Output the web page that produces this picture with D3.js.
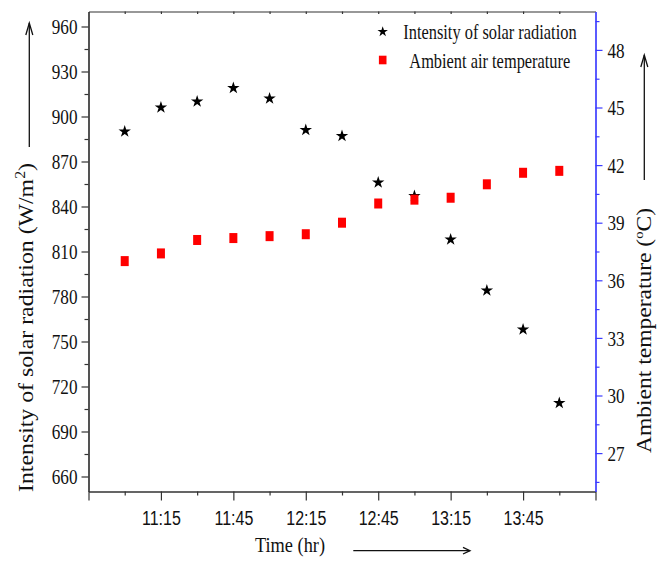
<!DOCTYPE html>
<html>
<head>
<meta charset="utf-8">
<script src="https://cdn.jsdelivr.net/npm/d3@7"></script>
<style>
  html, body { margin: 0; padding: 0; background: #fff; }
  svg { display: block; }
</style>
</head>
<body>
<svg id="chart" width="668" height="561"></svg>
<script>
// ---- data ----
const times = ["11:00","11:15","11:30","11:45","12:00","12:15","12:30","12:45","13:00","13:15","13:30","13:45","14:00"];
const solarRadiation = [890, 906, 910, 919, 912, 891, 887, 856, 847, 818, 784, 758, 709];
const airTemperature = [37.0, 37.4, 38.1, 38.2, 38.3, 38.4, 39.0, 40.0, 40.2, 40.3, 41.0, 41.6, 41.7];
const xTickLabels = ["11:15","11:45","12:15","12:45","13:15","13:45"];
const leftTicks = [660, 690, 720, 750, 780, 810, 840, 870, 900, 930, 960];
const rightTicks = [27, 30, 33, 36, 39, 42, 45, 48];
const seriesNames = ["Intensity of solar radiation", "Ambient air temperature"];

// ---- helpers ----
const toMin = s => { const [h, m] = s.split(":").map(Number); return h * 60 + m; };
const fmt = m => Math.floor(m / 60) + ":" + String(m % 60).padStart(2, "0");

const serif = "'Liberation Serif', 'Times New Roman', serif";
const sans = "'Liberation Sans', Arial, sans-serif";

const svg = d3.select("#chart");
const L = 88.5, R = 595.5, T = 11.5, B = 491.5;

const x = d3.scaleLinear().domain([toMin("10:45"), toMin("14:15")]).range([L, R]);
const yL = d3.scaleLinear().domain([650, 970]).range([B, T]);
const yR = d3.scaleLinear().domain([25, 50]).range([B, T]);

const axisColor = "#333";
const blue = "#3c3cff";

// top border with tiny inward ticks
const topAx = svg.append("g").attr("transform", `translate(0,${T})`)
  .call(d3.axisTop(x).tickValues(d3.range(toMin("11:00"), toMin("14:15"), 15)).tickSize(-2.5).tickSizeOuter(0).tickFormat(""));
topAx.selectAll("path,line").attr("stroke", axisColor).attr("stroke-width", 1.2);
topAx.selectAll("text").remove();

// bottom axis (minor)
const bMin = svg.append("g").attr("transform", `translate(0,${B})`)
  .call(d3.axisBottom(x).tickValues(d3.range(toMin("11:00"), toMin("14:15"), 30)).tickSize(4).tickSizeOuter(0).tickFormat(""));
bMin.selectAll("path,line").attr("stroke", axisColor).attr("stroke-width", 1.2);
bMin.selectAll("text").remove();

// bottom axis (major)
const bMaj = svg.append("g").attr("transform", `translate(0,${B})`)
  .call(d3.axisBottom(x).tickValues(d3.range(toMin("10:45"), toMin("14:15") + 1, 30)).tickSize(9).tickSizeOuter(0)
    .tickFormat(d => xTickLabels.includes(fmt(d)) ? fmt(d) : ""));
bMaj.selectAll("path,line").attr("stroke", axisColor).attr("stroke-width", 1.2);
bMaj.attr("font-family", sans).attr("font-size", 20);
bMaj.selectAll("text").filter(function () { return this.textContent === ""; }).remove();
bMaj.selectAll("text").attr("y", 0).attr("dy", 0).attr("fill", "#111")
  .attr("transform", "translate(0,33) scale(0.8,1)");

// left axis (minor + major)
const lMin = svg.append("g").attr("transform", `translate(${L},0)`)
  .call(d3.axisLeft(yL).tickValues(d3.range(675, 961, 30)).tickSize(4).tickSizeOuter(0).tickFormat(""));
lMin.selectAll("path,line").attr("stroke", axisColor).attr("stroke-width", 1.2);
lMin.selectAll("text").remove();
const lMaj = svg.append("g").attr("transform", `translate(${L},0)`)
  .call(d3.axisLeft(yL).tickValues(leftTicks).tickSize(7).tickSizeOuter(0));
lMaj.selectAll("path,line").attr("stroke", axisColor).attr("stroke-width", 1.2);
lMaj.attr("font-family", serif).attr("font-size", 22);
lMaj.selectAll("text").attr("x", 0).attr("dy", "0.33em").attr("fill", "#111")
  .attr("transform", "translate(-11,0) scale(0.78,1)");

// right axis (minor + major), blue
const rMin = svg.append("g").attr("transform", `translate(${R},0)`)
  .call(d3.axisRight(yR).tickValues(d3.range(25.5, 50, 3)).tickSize(4).tickSizeOuter(0).tickFormat(""));
rMin.selectAll("path,line").attr("stroke", blue).attr("stroke-width", 1.2);
rMin.selectAll("text").remove();
const rMaj = svg.append("g").attr("transform", `translate(${R},0)`)
  .call(d3.axisRight(yR).tickValues(rightTicks).tickSize(7).tickSizeOuter(0));
rMaj.selectAll("path,line").attr("stroke", blue).attr("stroke-width", 1.2);
rMaj.attr("font-family", serif).attr("font-size", 22);
rMaj.selectAll("text").attr("x", 0).attr("dy", "0.33em").attr("fill", "#111")
  .attr("text-anchor", "start")
  .attr("transform", "translate(12,0) scale(0.78,1)");

// ---- data marks ----
const star = d3.symbol().type(d3.symbolStar).size(48);
svg.append("g").selectAll("path").data(times.map((t, i) => ({ t, v: solarRadiation[i] })))
  .join("path")
  .attr("d", star)
  .attr("transform", d => `translate(${x(toMin(d.t))},${yL(d.v)})`)
  .attr("fill", "#000");

const sqW = 8, sqH = 10;
svg.append("g").selectAll("rect").data(times.map((t, i) => ({ t, v: airTemperature[i] })))
  .join("rect")
  .attr("x", d => x(toMin(d.t)) - sqW / 2)
  .attr("y", d => yR(d.v) - sqH / 2)
  .attr("width", sqW).attr("height", sqH)
  .attr("fill", "#ff0000");

// ---- legend ----
const lg = svg.append("g");
lg.append("path").attr("d", d3.symbol().type(d3.symbolStar).size(34)).attr("transform", "translate(382.7,31.7)").attr("fill", "#000");
lg.append("rect").attr("x", 382.7 - 3.8).attr("y", 60 - 4.3).attr("width", 7.6).attr("height", 8.6).attr("fill", "#ff0000");
lg.append("text").attr("transform", "translate(403.3,39) scale(0.78,1)").attr("font-family", serif).attr("font-size", 21)
  .attr("fill", "#111").text(seriesNames[0]);
lg.append("text").attr("transform", "translate(409.3,67.5) scale(0.78,1)").attr("font-family", serif).attr("font-size", 21)
  .attr("fill", "#111").text(seriesNames[1]);

// ---- axis titles ----
const lt = svg.append("text").attr("transform", "translate(33,327.5) rotate(-90)")
  .attr("text-anchor", "middle").attr("font-family", serif).attr("font-size", 21).attr("fill", "#111")
  .attr("textLength", 329).attr("lengthAdjust", "spacingAndGlyphs");
lt.append("tspan").text("Intensity of solar radiation (W/m");
lt.append("tspan").attr("dy", -8).attr("font-size", 14).text("2");
lt.append("tspan").attr("dy", 8).text(")");

const rt = svg.append("text").attr("transform", "translate(651,330.5) rotate(-90)")
  .attr("text-anchor", "middle").attr("font-family", serif).attr("font-size", 21).attr("fill", "#111")
  .attr("textLength", 245).attr("lengthAdjust", "spacingAndGlyphs");
rt.append("tspan").text("Ambient temperature (");
rt.append("tspan").attr("dy", -8).attr("font-size", 13).text("o");
rt.append("tspan").attr("dy", 8).text("C)");

svg.append("text").attr("x", 255).attr("y", 552).attr("font-family", serif).attr("font-size", 21)
  .attr("fill", "#111").attr("textLength", 70).attr("lengthAdjust", "spacingAndGlyphs").text("Time (hr)");

// ---- arrows ----
const arrows = svg.append("g").attr("stroke", "#111").attr("fill", "none").attr("stroke-width", 1.3);
// left (up)
arrows.append("line").attr("x1", 29.3).attr("y1", 147).attr("x2", 29.3).attr("y2", 23);
arrows.append("path").attr("d", "M25.8,35 L29.3,23 L32.8,35");
// right (up)
arrows.append("line").attr("x1", 644.3).attr("y1", 180).attr("x2", 644.3).attr("y2", 55);
arrows.append("path").attr("d", "M640.8,67 L644.3,55 L647.8,67");
// bottom (right)
arrows.append("line").attr("x1", 353.3).attr("y1", 550.7).attr("x2", 470).attr("y2", 550.7);
arrows.append("path").attr("d", "M463,547.4 L470,550.7 L463,554");
</script>
</body>
</html>
